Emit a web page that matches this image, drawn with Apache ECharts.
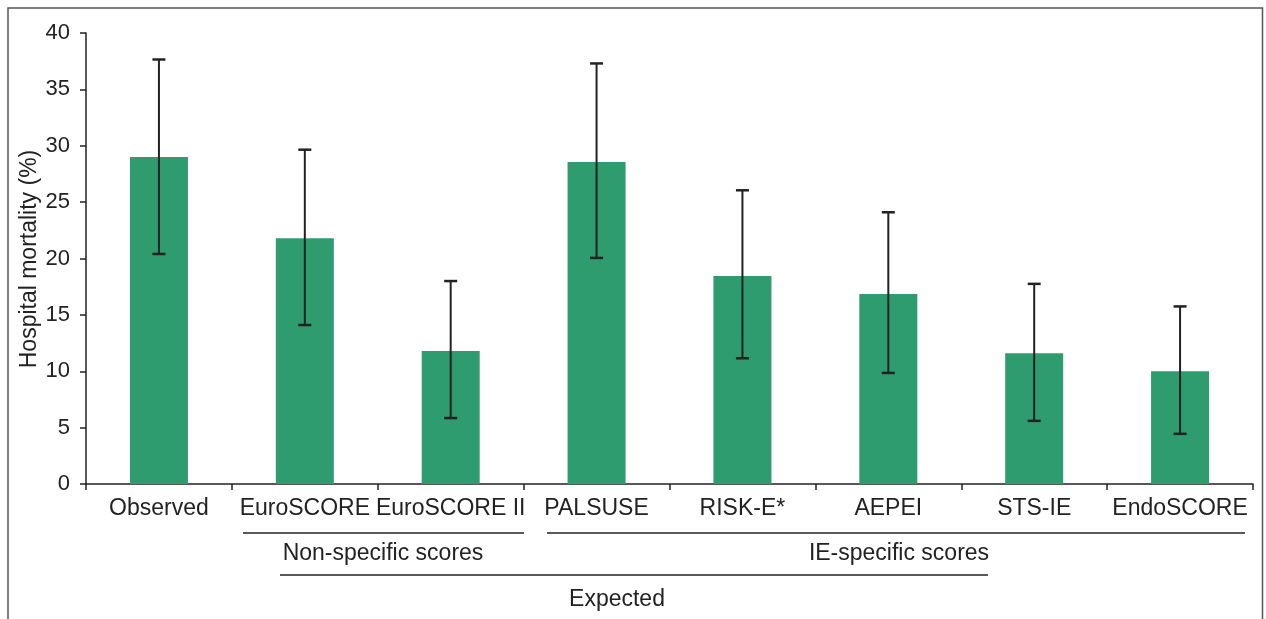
<!DOCTYPE html>
<html>
<head>
<meta charset="utf-8">
<script src="https://cdn.jsdelivr.net/npm/echarts@6/dist/echarts.min.js"></script>
<style>
html,body{margin:0;padding:0;background:#fff;}
#chart{width:1266px;height:619px;}
</style>
</head>
<body>
<div id="chart"></div>
<script>
var categories = ['Observed','EuroSCORE','EuroSCORE II','PALSUSE','RISK-E*','AEPEI','STS-IE','EndoSCORE'];
var mortality = [29.0, 21.8, 11.8, 28.55, 18.45, 16.85, 11.6, 10.0];
var ciLow = [20.4, 14.1, 5.85, 20.05, 11.15, 9.85, 5.6, 4.45];
var ciHigh = [37.65, 29.65, 18.0, 37.3, 26.05, 24.1, 17.75, 15.75];
var yTicks = [0, 5, 10, 15, 20, 25, 30, 35, 40];
var yAxisName = 'Hospital mortality (%)';
var groupLabels = ['Non-specific scores', 'IE-specific scores', 'Expected'];

var FONT = 'Liberation Sans, Arial, Helvetica, sans-serif';
var chart = echarts.init(document.getElementById('chart'), null, {renderer: 'canvas'});

var errData = categories.map(function (c, i) { return [i, ciLow[i], ciHigh[i]]; });

var option = {
  animation: false,
  backgroundColor: '#fff',
  grid: {left: 86, right: 13, top: 33, bottom: 135, containLabel: false},
  xAxis: {
    type: 'category',
    data: categories,
    axisLine: {lineStyle: {color: '#222', width: 1.5}},
    axisTick: {show: true, length: 6, lineStyle: {color: '#222', width: 1.5}},
    axisLabel: {color: '#222', fontSize: 23, fontFamily: FONT, margin: 13, interval: 0}
  },
  yAxis: {
    type: 'value',
    min: yTicks[0],
    max: yTicks[yTicks.length - 1],
    interval: 5,
    axisLine: {show: true, lineStyle: {color: '#222', width: 1.5}},
    axisTick: {show: true, length: 6, lineStyle: {color: '#222', width: 1.5}},
    splitLine: {show: false},
    axisLabel: {color: '#222', fontSize: 22, fontFamily: FONT, margin: 16}
  },
  series: [
    {
      type: 'bar',
      data: mortality,
      barWidth: 58,
      itemStyle: {color: '#2e9c6e'},
      z: 2
    },
    {
      type: 'custom',
      data: errData,
      z: 5,
      renderItem: function (params, api) {
        var x = api.coord([api.value(0), 0])[0];
        var lo = api.coord([api.value(0), api.value(1)])[1];
        var hi = api.coord([api.value(0), api.value(2)])[1];
        var hw = 6.5;
        var st = {stroke: '#222', lineWidth: 2};
        var cap = {stroke: '#222', lineWidth: 2.5};
        return {
          type: 'group',
          children: [
            {type: 'line', shape: {x1: x, y1: hi, x2: x, y2: lo}, style: st},
            {type: 'line', shape: {x1: x - hw, y1: hi, x2: x + hw, y2: hi}, style: cap},
            {type: 'line', shape: {x1: x - hw, y1: lo, x2: x + hw, y2: lo}, style: cap}
          ]
        };
      }
    }
  ],
  graphic: [
    {type: 'rect', shape: {x: 8, y: 8, width: 1254.5, height: 640}, style: {fill: 'none', stroke: '#555', lineWidth: 1.5}, z: 100},
    {type: 'text', x: 30, y: 259, rotation: Math.PI / 2,
      style: {text: yAxisName, fontSize: 23, fontFamily: FONT, fill: '#222', align: 'center', verticalAlign: 'middle'}},
    {type: 'line', shape: {x1: 243, y1: 533, x2: 524, y2: 533}, style: {stroke: '#222', lineWidth: 1.5}},
    {type: 'line', shape: {x1: 547, y1: 533, x2: 1245, y2: 533}, style: {stroke: '#222', lineWidth: 1.5}},
    {type: 'line', shape: {x1: 280, y1: 575, x2: 988, y2: 575}, style: {stroke: '#222', lineWidth: 1.5}},
    {type: 'text', x: 383, y: 554, style: {text: groupLabels[0], fontSize: 23, fontFamily: FONT, fill: '#222', align: 'center', verticalAlign: 'middle'}},
    {type: 'text', x: 899, y: 554, style: {text: groupLabels[1], fontSize: 23, fontFamily: FONT, fill: '#222', align: 'center', verticalAlign: 'middle'}},
    {type: 'text', x: 617, y: 600, style: {text: groupLabels[2], fontSize: 23, fontFamily: FONT, fill: '#222', align: 'center', verticalAlign: 'middle'}}
  ]
};
chart.setOption(option);
</script>
</body>
</html>
